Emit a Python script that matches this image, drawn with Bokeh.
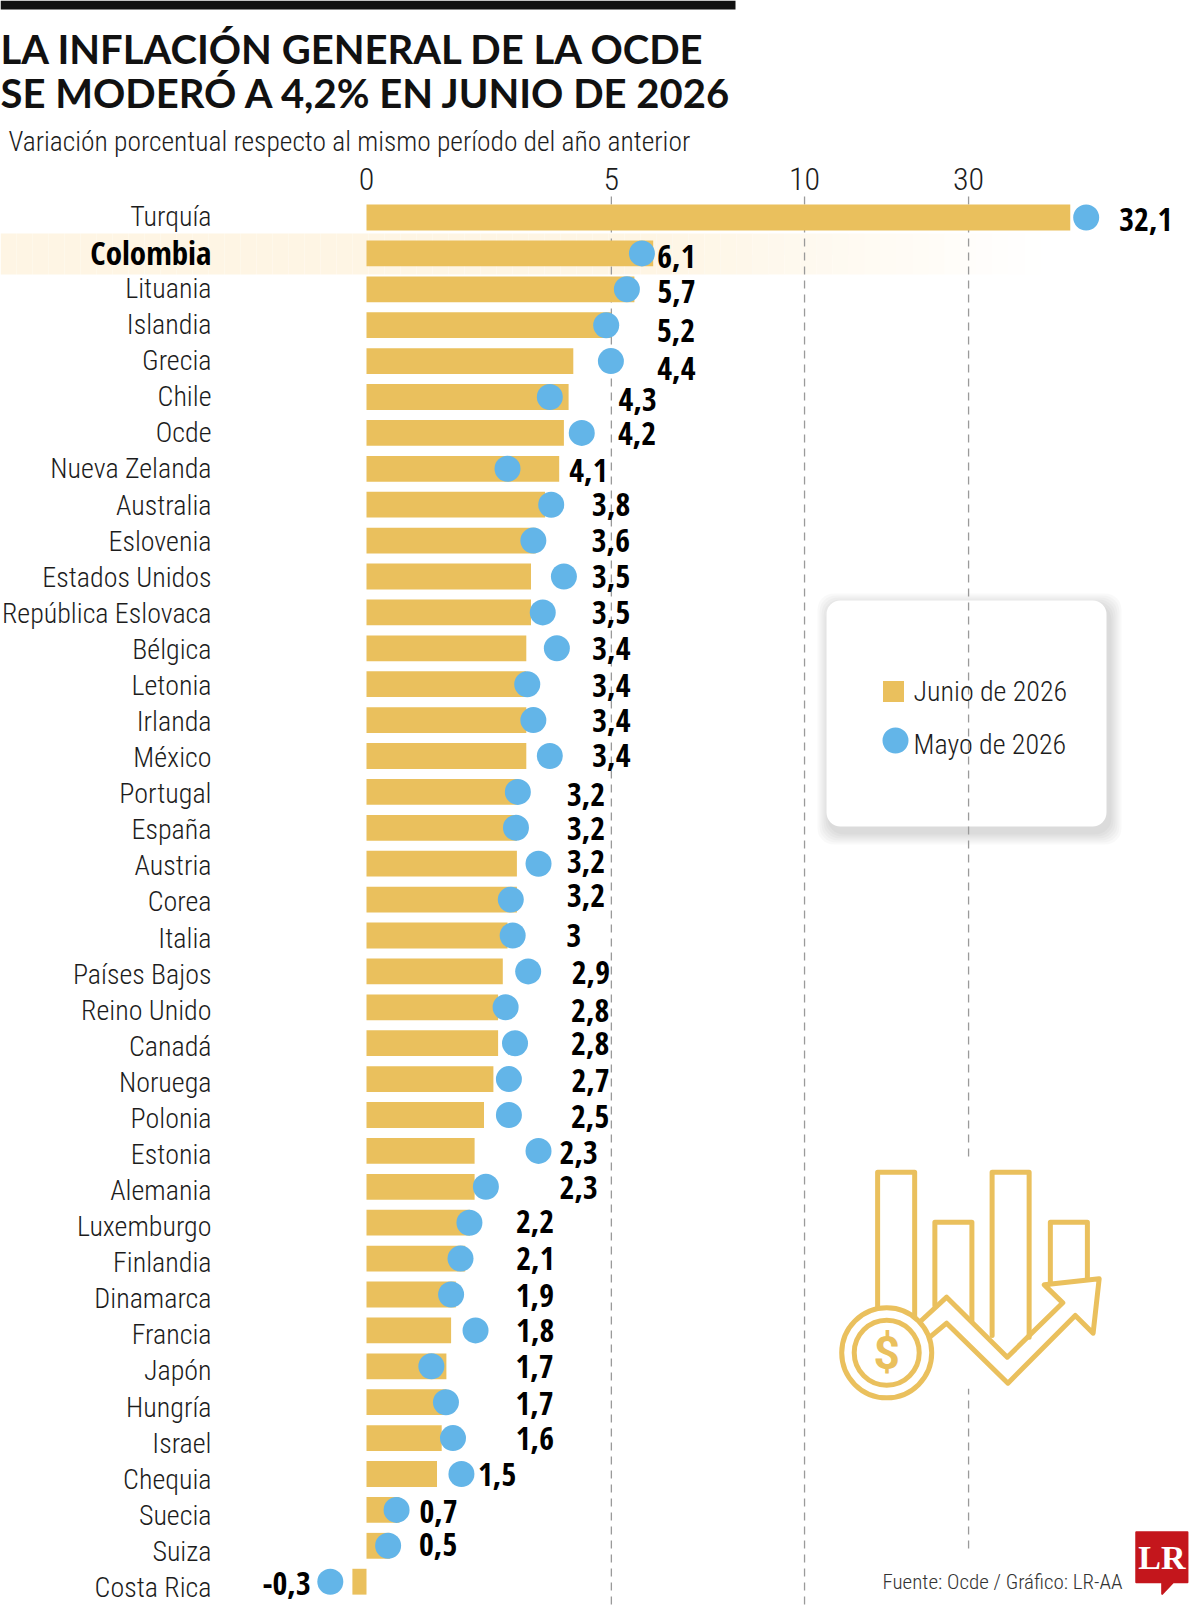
import numpy as np
from bokeh.plotting import figure
from bokeh.models import Range1d, LinearAxis, FixedTicker, BoxAnnotation, ColumnDataSource
from bokeh.core.properties import value
from bokeh.embed import file_html
from bokeh.resources import INLINE

# ---------- data ----------
countries = ["Turquía", "Colombia", "Lituania", "Islandia", "Grecia", "Chile", "Ocde", "Nueva Zelanda",
             "Australia", "Eslovenia", "Estados Unidos", "República Eslovaca", "Bélgica", "Letonia",
             "Irlanda", "México", "Portugal", "España", "Austria", "Corea", "Italia", "Países Bajos",
             "Reino Unido", "Canadá", "Noruega", "Polonia", "Estonia", "Alemania", "Luxemburgo",
             "Finlandia", "Dinamarca", "Francia", "Japón", "Hungría", "Israel", "Chequia", "Suecia",
             "Suiza", "Costa Rica"]
junio_2026 = [32.1, 6.1, 5.7, 5.2, 4.4, 4.3, 4.2, 4.1, 3.8, 3.6, 3.5, 3.5, 3.4, 3.4, 3.4, 3.4, 3.2, 3.2,
              3.2, 3.2, 3.0, 2.9, 2.8, 2.8, 2.7, 2.5, 2.3, 2.3, 2.2, 2.1, 1.9, 1.8, 1.7, 1.7, 1.6, 1.5,
              0.7, 0.5, -0.3]
mayo_2026 = [33.1, 5.86, 5.54, 5.1, 5.2, 3.9, 4.58, 3.0, 3.93, 3.55, 4.2, 3.75, 4.05, 3.42, 3.55, 3.9,
             3.22, 3.18, 3.66, 3.07, 3.11, 3.44, 2.96, 3.16, 3.03, 3.03, 3.66, 2.54, 2.19, 2.0, 1.8, 2.32,
             1.38, 1.69, 1.84, 2.02, 0.64, 0.46, -0.77]
tick_labels = ["0", "5", "10", "30"]
tick_positions = [0, 5.21, 9.32, 12.81]   # the printed axis is broken and not linear

# hand placement of the value labels in the original (pixels, from the bar's end)
label_dx = [49, 4, 23, 46, 84, 50, 54, 10, 47, 56, 61, 61, 66, 66, 66, 66, 50, 50, 50, 50, 59, 69, 73, 73,
            78, 87, 85, 85, 46, 51, 60, 65, 69, 69, 74, 41, 20, 29, -90]
label_dy = [2, 3, 2, 5, 7, 2, 1, 2, 0, 0, 0, 0, 0, 1, 0, -1, 3, 1, -2, -4, 0, 1, 3, 0, 1, 1, 2, 1, -1, 0, 1,
            0, 0, 1, 0, 0, 2, -1, 2]

# ---------- scales ----------
ORIGIN_X, UNIT_X, FIRST_Y, ROW_Y = 366.0, 47.0, 217.0, 35.9
W, H = 1200, 1607
LABEL_ROW_STRETCH = 36.08 / 35.9   # the names run on a slightly wider pitch than the bars
def px(x): return (np.asarray(x, dtype=float) - ORIGIN_X) / UNIT_X
def py(y): return (np.asarray(y, dtype=float) - FIRST_Y) / ROW_Y
def pos(v):  # the long Turquía bar is compressed in the original
    return np.interp(v, [-1, 6.2, 40], [-1, 6.2, 17.65])

GOLD, BLUE = "#EAC05D", "#63B5E8"
LIGHT = "Roboto Condensed Light, Roboto Condensed"
BOLD = "Open Sans Condensed"
INK = "#1c1c1c"

p = figure(width=W, height=H, output_backend="svg", toolbar_location=None, min_border=0,
           x_axis_type=None, y_axis_type=None,
           x_range=Range1d(float(px(0)), float(px(W))), y_range=Range1d(float(py(H)), float(py(0))))
p.outline_line_color = None
p.grid.visible = False

rows = np.arange(len(countries))

# Colombia highlight band, fading out
edges = np.arange(0, 1041, 16)
alphas = np.where(edges[:-1] < 640, 1.0, 1 - (edges[:-1] - 640) / 400)
p.quad(left=px(edges[:-1]), right=px(edges[1:]), top=py(233), bottom=py(274), fill_color="#FEF5E4",
       fill_alpha=alphas, line_color=None, level="underlay")

# legend box and soft shadow
BOX = (826, 1106, 600, 826)
for i in range(6):
    g = 12 - 2 * i
    p.add_layout(BoxAnnotation(left=float(px(BOX[0] + 3 - g)), right=float(px(BOX[1] + 3 + g)),
                               top=float(py(BOX[2] + 5 - g)), bottom=float(py(BOX[3] + 6 + g)),
                               fill_color="black", fill_alpha=0.024, line_alpha=0,
                               border_radius=16, level="underlay"))
p.add_layout(BoxAnnotation(left=float(px(BOX[0])), right=float(px(BOX[1])), top=float(py(BOX[2])), bottom=float(py(BOX[3])),
                           fill_color="white", fill_alpha=1, line_alpha=0, border_radius=14, level="underlay"))

# dashed reference lines
p.segment(x0=tick_positions[1:], x1=tick_positions[1:], y0=[py(196)] * 3, y1=[py(1607), py(1607), py(1553)],
          line_color="#9a9a9a", line_width=1.3, line_dash="8 6")

# bars, points
src = ColumnDataSource(dict(y=rows, left=pos(np.minimum(junio_2026, 0)), right=pos(np.maximum(junio_2026, 0)),
                            may=pos(mayo_2026), end=pos(junio_2026), dx=label_dx, dy=label_dy,
                            label=[f"{v:g}".replace(".", ",") for v in junio_2026]))
bars = p.hbar(y="y", left="left", right="right", height=0.72, source=src, fill_color=GOLD, line_color=None)
dots = p.scatter(x="may", y="y", size=26, source=src, fill_color=BLUE, line_color=None)
p.text(x="end", y="y", text="label", x_offset="dx", y_offset="dy", source=src, text_font=value(BOLD),
       text_font_style="bold", text_font_size="32px", text_baseline="middle", text_color="black")

# axes
top_axis = LinearAxis(fixed_location=float(py(198)), ticker=FixedTicker(ticks=tick_positions),
                      major_label_overrides=dict(zip(tick_positions, tick_labels)),
                      axis_line_color=None, major_tick_line_color=None, minor_tick_line_color=None,
                      major_label_standoff=3, major_label_text_font=LIGHT, major_label_text_font_size="32px",
                      major_label_text_color=INK)
p.add_layout(top_axis, "above")
def name_tick(i): return round(i * LABEL_ROW_STRETCH - 0.03, 3)
others = [int(i) for i in rows if i != 1]
for idx, style, size in ((others, "normal", "28px"), ([1], "bold", "33px")):
    ax = LinearAxis(fixed_location=0, ticker=FixedTicker(ticks=[name_tick(i) for i in idx]),
                    major_label_overrides={name_tick(i): countries[i] for i in idx},
                    axis_line_color=None, major_tick_line_color=None, minor_tick_line_color=None,
                    major_label_standoff=149, major_label_text_font=BOLD if style == "bold" else LIGHT,
                    major_label_text_font_size=size,
                    major_label_text_font_style=style, major_label_text_color="black" if style == "bold" else INK)
    p.add_layout(ax, "left")

# legend, drawn by hand inside its rounded card
p.scatter(x=[px(893)], y=[py(691)], marker="square", size=21, fill_color=GOLD, line_color=None)
p.scatter(x=[px(895)], y=[py(740)], size=26, fill_color=BLUE, line_color=None)
p.text(x=[px(913)] * 2, y=[py(691), py(744)], text=["Junio de 2026", "Mayo de 2026"], text_font=value(LIGHT),
       text_font_size="28px", text_baseline="middle", text_color=INK)

# title block
p.quad(left=[px(0)], right=[px(735)], top=[py(0)], bottom=[py(9)], fill_color="#111111", line_color=None)
p.text(x=[px(0)] * 2, y=[py(48), py(92)], text=["LA INFLACIÓN GENERAL DE LA OCDE", "SE MODERÓ A 4,2% EN JUNIO DE 2026"],
       text_font=value("Lato"), text_font_style="bold", text_font_size="40px", text_baseline="middle",
       text_color="#111111")
p.text(x=[px(8)], y=[py(141)], text=["Variación porcentual respecto al mismo período del año anterior"],
       text_font=value(LIGHT), text_font_size="27.5px", text_baseline="middle", text_color=INK)

# icon (decorative)
def ix(X): return px(798 + np.asarray(X, dtype=float) / 2.97)
def iy(Y): return py(1140 + np.asarray(Y, dtype=float) / 3)
p.quad(left=[ix(120)], right=[ix(900)], top=[iy(60)], bottom=[iy(745)], fill_color="white", line_color=None)
icon_paths = [
    ([235, 235, 345, 345], [505, 95, 95, 530]),
    ([405, 405, 515, 515], [495, 245, 245, 540]),
    ([575, 575, 685, 685], [585, 95, 95, 590]),
    ([748, 748, 858, 858], [430, 245, 245, 415]),
    ([365, 440, 620, 785, 730, 893, 875, 822, 622, 440, 390], [540, 470, 650, 487, 433, 415, 578, 525, 728, 548, 590]),
]
p.multi_line(xs=[ix(a) for a, _ in icon_paths], ys=[iy(b) for _, b in icon_paths], line_color=GOLD, line_width=5,
             line_join="round", line_cap="round")
p.scatter(x=[ix(262)], y=[iy(637)], size=[90], fill_color="white", line_color=GOLD, line_width=5)
p.scatter(x=[ix(262)], y=[iy(637)], size=[65], fill_color="white", line_color=GOLD, line_width=5)
p.text(x=[ix(262)], y=[iy(637)], text=["$"], text_font=value("Roboto"), text_font_style="bold", text_font_size="46px",
       text_align="center", text_baseline="middle", text_color=GOLD)

# footer and logo
p.text(x=[px(1122)], y=[py(1581)], text=["Fuente: Ocde / Gráfico: LR-AA"], text_font=value(LIGHT),
       text_font_size="21px", text_align="right", text_baseline="middle", text_color="#333333")
lx = px(793 + np.array([1018, 1170, 1170, 1128, 1095, 1095, 1018]) / 2.97)
ly = iy([1175, 1175, 1325, 1325, 1360, 1325, 1325])
p.patch(x=lx, y=ly, fill_color="#C4161C", line_color="#C4161C", line_width=2, line_join="round")
p.text(x=[px(793 + 1094 / 2.97)], y=[iy(1250)], text=["LR"], text_font=value("Liberation Serif"), text_font_style="bold",
       text_font_size="34px", text_align="center", text_baseline="middle", text_color="white")

open("out.html", "w").write(file_html(p, INLINE))
